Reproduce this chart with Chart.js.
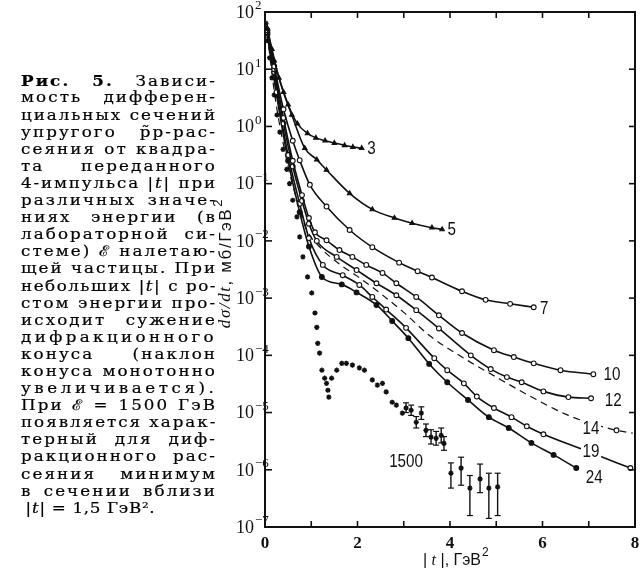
<!DOCTYPE html>
<html>
<head>
<meta charset="utf-8">
<script src="https://cdn.jsdelivr.net/npm/chart.js@4.4.0/dist/chart.umd.min.js"></script>
<style>
html, body { margin: 0; padding: 0; background: #fff; }
#wrap { position: relative; width: 644px; height: 571px; overflow: hidden; }
#c { position: absolute; left: 0; top: 0; }
#cap { position: absolute; left: 21px; top: 72.4px; width: 170px; transform: scaleX(1.153); transform-origin: 0 0;
       font: 14.5px "DejaVu Serif", serif; color: #000; -webkit-text-stroke: 0.2px #000; }
#cap div { height: 17.1px; line-height: 17.1px; white-space: nowrap; text-align: left; }
</style>
</head>
<body>
<div id="wrap">
  <canvas id="c" width="644" height="571"></canvas>
  <div id="cap"></div>
</div>
<script>
'use strict'

// caption, line by line as printed
const captionLines = [
  '<b>Рис. 5.</b> Зависи-',
  'мость дифферен-',
  'циальных сечений',
  'упругого p̃p-рас-',
  'сеяния от квадра-',
  'та переданного',
  '4-импульса |<i>t</i>| при',
  'различных значе-',
  'ниях энергии (в',
  'лабораторной си-',
  'стеме) ℰ налетаю-',
  'щей частицы. При',
  'небольших |<i>t</i>| с ро-',
  'стом энергии про-',
  'исходит сужение',
  'дифракционного',
  'конуса (наклон',
  'конуса монотонно',
  'увеличивается).',
  'При ℰ = 1500 ГэВ',
  'появляется харак-',
  'терный для диф-',
  'ракционного рас-',
  'сеяния минимум',
  'в сечении вблизи',
  '|<i>t</i>| = 1,5 ГэВ².'
]

// |t| (ГэВ²) and log10(dσ/dt) for each lab energy (ГэВ)
const t3   = [0.05, 0.15, 0.3, 0.5, 0.7, 0.92, 1.1, 1.3, 1.5, 1.72, 1.9, 2.09]
const lg3  = [1.72, 1.35, 0.85, 0.38, 0.05, -0.12, -0.2, -0.25, -0.29, -0.33, -0.36, -0.38]

const t5   = [0.05, 0.2, 0.4, 0.58, 0.86, 1.12, 1.33, 1.83, 2.32, 2.8, 3.18, 3.61, 3.83]
const lg5  = [1.7, 1.15, 0.6, 0.2, -0.38, -0.58, -0.76, -1.17, -1.45, -1.6, -1.69, -1.77, -1.8]

const t7   = [0.05, 0.2, 0.4, 0.6, 0.75, 0.97, 1.33, 1.83, 2.32, 2.9, 3.3, 3.61, 4.26, 4.77, 5.3, 5.81]
const lg7  = [1.68, 1.05, 0.3, -0.25, -0.59, -1.02, -1.4, -1.81, -2.11, -2.38, -2.53, -2.64, -2.88, -3.03, -3.1, -3.16]

const t10  = [0.05, 0.2, 0.4, 0.6, 0.8, 0.95, 1.08, 1.33, 1.61, 1.89, 2.19, 2.54, 2.84, 3.27, 3.76, 4.26, 4.95, 5.38, 5.81, 6.39, 7.1]
const lg10 = [1.65, 1.0, 0.15, -0.6, -1.2, -1.6, -1.85, -1.99, -2.16, -2.28, -2.42, -2.56, -2.74, -2.98, -3.3, -3.61, -3.91, -4.03, -4.14, -4.26, -4.33]

const t12  = [0.05, 0.2, 0.4, 0.6, 0.8, 0.95, 1.12, 1.55, 1.98, 2.41, 2.84, 3.27, 3.76, 4.45, 4.88, 5.23, 5.55, 6.02, 6.56, 7.05]
const lg12 = [1.63, 0.95, 0.05, -0.7, -1.3, -1.7, -2.0, -2.28, -2.51, -2.74, -2.95, -3.21, -3.53, -4.0, -4.24, -4.38, -4.47, -4.63, -4.73, -4.75]

const t14  = [0.05, 0.22, 0.47, 0.69, 0.9, 1.2, 1.6, 2.0, 2.5, 3.0, 3.55, 4.26, 5.0, 5.7, 6.56, 7.1, 7.6, 7.95]
const lg14 = [1.6, 0.5, -0.59, -1.29, -1.8, -2.12, -2.4, -2.62, -2.92, -3.25, -3.65, -4.03, -4.38, -4.7, -5.05, -5.2, -5.31, -5.36]
const mark14 = [0, 0, 0, 0, 0, 0, 0, 0, 0, 0, 0, 0, 0, 0, 0, 0, 1, 0]

const t19  = [0.05, 0.25, 0.5, 0.75, 0.95, 1.25, 1.68, 2.04, 2.32, 2.62, 3.05, 3.66, 3.94, 4.3, 4.58, 4.95, 5.33, 5.66, 6.02, 6.92, 7.9]
const lg19 = [1.6, 0.6, -0.5, -1.35, -1.95, -2.42, -2.6, -2.77, -2.98, -3.2, -3.52, -4.05, -4.26, -4.49, -4.72, -4.92, -5.08, -5.24, -5.38, -5.66, -5.97]

const t24  = [0.05, 0.25, 0.5, 0.75, 0.95, 1.23, 1.66, 1.98, 2.41, 2.75, 3.1, 3.55, 3.94, 4.39, 4.84, 5.27, 5.76, 6.24, 6.73]
const lg24 = [1.62, 0.55, -0.6, -1.5, -2.1, -2.63, -2.76, -2.9, -3.12, -3.4, -3.7, -4.15, -4.47, -4.78, -5.08, -5.27, -5.53, -5.74, -5.97]

const t1500  = [0.02, 0.06, 0.1, 0.15, 0.2, 0.26, 0.32, 0.39, 0.47, 0.53, 0.6, 0.69, 0.75, 0.82, 0.92, 1.01, 1.08, 1.12, 1.14, 1.18, 1.23, 1.29, 1.33, 1.36, 1.38,
                1.44, 1.55, 1.66, 1.76, 1.89, 2.04, 2.15, 2.32, 2.43, 2.54, 2.62, 2.75, 2.84, 2.97, 3.05, 3.16, 3.27, 3.38, 3.48, 3.59, 3.7, 3.81, 3.87,
                4.02, 4.24, 4.43, 4.65, 4.84, 5.03]
const lg1500 = [1.8, 1.5, 1.2, 0.85, 0.55, 0.2, -0.1, -0.4, -0.75, -1.0, -1.29, -1.58, -1.93, -2.28, -2.63, -2.91, -3.26, -3.51, -3.79, -3.96, -4.26, -4.4, -4.49, -4.61, -4.73,
                -4.4, -4.26, -4.14, -4.14, -4.17, -4.22, -4.26, -4.43, -4.52, -4.49, -4.64, -4.82, -4.87, -5.01, -4.92, -4.96, -5.17, -5.01, -5.31, -5.43, -5.45, -5.4, -5.54,
                -6.06, -5.97, -6.32, -6.16, -6.32, -6.3]

// error bars of the 1500 ГэВ points
const errT  = [3.05, 3.16, 3.27, 3.38, 3.48, 3.59, 3.7, 3.81, 3.87, 4.02, 4.24, 4.43, 4.65, 4.84, 5.03]
const errHi = [-4.83, -4.87, -5.07, -4.9, -5.2, -5.3, -5.33, -5.27, -5.42, -5.88, -5.78, -6.1, -5.9, -6.06, -6.06]
const errLo = [-5.0, -5.05, -5.27, -5.12, -5.42, -5.55, -5.57, -5.53, -5.66, -6.32, -6.27, -6.8, -6.4, -6.85, -6.8]

// axes
const xTicks = [0, 1, 2, 3, 4, 5, 6, 7, 8]
const xLabels = [0, 2, 4, 6, 8]
const yExps = [2, 1, 0, -1, -2, -3, -4, -5, -6, -7]

// curve labels: text, |t|, log10 value
const curveLabels = [
  ['3', 2.3, -0.38], ['5', 4.04, -1.79], ['7', 6.04, -3.17], ['10', 7.5, -4.33], ['12', 7.53, -4.78],
  ['14', 7.05, -5.26], ['19', 7.05, -5.67], ['24', 7.12, -6.13], ['1500', 3.05, -5.85]
]

// ---- caption
const cap = document.getElementById('cap')
captionLines.forEach(h => {
  const d = document.createElement('div')
  const s = document.createElement('span')
  s.innerHTML = h
  d.appendChild(s)
  cap.appendChild(d)
})
const capW = 170
Array.from(cap.children).forEach((d, i) => {
  if (i === captionLines.length - 1) { d.style.paddingLeft = '4px'; d.style.letterSpacing = '0.6px'; return }
  const s = d.firstChild
  const w = s.offsetWidth
  const txt = s.textContent
  const spaces = (txt.match(/ /g) || []).length
  let ls = (capW - w) / txt.length
  if (spaces) ls = Math.min(ls, 1.8)
  d.style.letterSpacing = ls + 'px'
  d.style.textAlign = 'justify'
  d.style.textAlignLast = 'justify'
})

// ---- chart
const pts = (t, lg) => t.map((v, i) => ({x: v, y: Math.pow(10, lg[i])}))

const curve = (t, lg, extra) => Object.assign({
  data: pts(t, lg),
  showLine: true,
  borderColor: '#111',
  borderWidth: 1.6,
  cubicInterpolationMode: 'monotone',
  pointRadius: 2.4,
  pointBorderWidth: 1.1,
  pointBorderColor: '#111',
  pointBackgroundColor: '#fff',
  pointStyle: 'circle'
}, extra)

const errData = []
errT.forEach((v, i) => {
  errData.push({x: v, y: Math.pow(10, errHi[i])})
  errData.push({x: v, y: Math.pow(10, errLo[i])})
  errData.push({x: v, y: null})
})

const ink = '#111'

// spaced text along x from (x, y)
const spaced = (ctx, s, x, y, gap) => {
  for (const ch of s) { ctx.fillText(ch, x, y); x += ctx.measureText(ch).width + gap }
  return x
}
const spacedWidth = (ctx, s, gap) => {
  let w = 0
  for (const ch of s) w += ctx.measureText(ch).width + gap
  return w
}

const frame = {
  id: 'frame',
  afterDatasetsDraw(chart) {
    const ctx = chart.ctx
    const xs = chart.scales.x, ys = chart.scales.y
    ctx.save()
    ctx.fillStyle = ink
    ctx.textAlign = 'center'
    ctx.textBaseline = 'middle'
    ctx.font = '19px "Liberation Sans", sans-serif'
    curveLabels.forEach(([txt, t, lg]) => {
      const px = xs.getPixelForValue(t), py = ys.getPixelForValue(Math.pow(10, lg))
      ctx.save()
      ctx.translate(px, py)
      ctx.scale(0.8, 1)
      const w = ctx.measureText(txt).width
      ctx.fillStyle = '#fff'
      ctx.fillRect(-w / 2 - 2, -8, w + 4, 16)
      ctx.fillStyle = ink
      ctx.fillText(txt, 0, 1)
      ctx.restore()
    })
    ctx.restore()
  },
  afterDraw(chart) {
    const ctx = chart.ctx
    const {left, right, top, bottom} = chart.chartArea
    const xs = chart.scales.x, ys = chart.scales.y
    ctx.save()
    ctx.strokeStyle = ink
    ctx.fillStyle = ink
    ctx.lineWidth = 2
    ctx.strokeRect(left, top, right - left, bottom - top)
    ctx.lineWidth = 1.6
    const seg = (a, b, c, d) => { ctx.beginPath(); ctx.moveTo(a, b); ctx.lineTo(c, d); ctx.stroke() }
    xTicks.forEach(v => {
      const px = xs.getPixelForValue(v)
      seg(px, bottom, px, bottom - 6)
      seg(px, top, px, top + 6)
    })
    yExps.forEach(e => {
      const py = ys.getPixelForValue(Math.pow(10, e))
      seg(left, py, left + 7, py)
      seg(right, py, right - 6, py)
    })
    // y tick labels 10^n
    ctx.textBaseline = 'middle'
    yExps.forEach(e => {
      const py = ys.getPixelForValue(Math.pow(10, e))
      ctx.font = '18px "Liberation Serif", serif'
      ctx.textAlign = 'right'
      ctx.fillText('10', left - 11, py + 1)
      ctx.font = '13px "Liberation Serif", serif'
      ctx.textAlign = 'left'
      ctx.fillText(e < 0 ? '\u2212' + (-e) : String(e), left - 10, py - 6)
    })
    // x tick labels
    ctx.font = 'bold 17px "Liberation Serif", serif'
    ctx.textAlign = 'center'
    xLabels.forEach(v => ctx.fillText(String(v), xs.getPixelForValue(v), bottom + 17))

    // x title  | t |, ГэВ²
    const parts = [['| ', '16px "Liberation Sans", sans-serif'], ['t', 'italic 16px "Liberation Serif", serif'],
                   [' |, ГэВ', '16px "Liberation Sans", sans-serif']]
    let tw = 0
    parts.forEach(([s, f]) => { ctx.font = f; tw += ctx.measureText(s).width })
    let cx = 452 - tw / 2
    ctx.textAlign = 'left'
    parts.forEach(([s, f]) => { ctx.font = f; ctx.fillText(s, cx, 561); cx += ctx.measureText(s).width })
    ctx.font = '12px "Liberation Sans", sans-serif'
    ctx.fillText('2', cx + 1, 553)

    // y title  dσ/dt, мб/ГэВ²
    ctx.save()
    ctx.translate(226, 264)
    ctx.rotate(-Math.PI / 2)
    const yparts = [['d\u03c3/dt', 'italic 17px "Liberation Serif", serif'], [', мб/ГэВ', '17px "Liberation Sans", sans-serif']]
    const gap = 1.6
    tw = 0
    yparts.forEach(([s, f]) => { ctx.font = f; tw += spacedWidth(ctx, s, gap) })
    cx = -tw / 2 - 4
    yparts.forEach(([s, f]) => { ctx.font = f; cx = spaced(ctx, s, cx, 0, gap) })
    ctx.font = '13px "Liberation Sans", sans-serif'
    ctx.fillText('2', cx + 1, -8)
    ctx.restore()
    ctx.restore()
  }
}

new Chart(document.getElementById('c'), {
  type: 'scatter',
  data: {
    datasets: [
      curve(t3, lg3, {pointStyle: 'triangle', pointBackgroundColor: ink, pointRadius: 2.6}),
      curve(t5, lg5, {pointStyle: 'triangle', pointBackgroundColor: ink, pointRadius: 2.6}),
      curve(t7, lg7),
      curve(t10, lg10),
      curve(t12, lg12),
      curve(t14, lg14, {borderDash: [7, 5], borderWidth: 1.2, pointRadius: mark14.map(m => m ? 2.4 : 0)}),
      curve(t19, lg19),
      curve(t24, lg24, {pointBackgroundColor: ink}),
      {
        data: pts(t1500, lg1500),
        showLine: false,
        pointStyle: 'star',
        pointRadius: 2.6,
        pointBorderWidth: 1.4,
        pointBorderColor: ink,
        pointBackgroundColor: ink
      },
      {
        data: errData,
        showLine: true,
        spanGaps: false,
        borderColor: ink,
        borderWidth: 1.4,
        pointStyle: 'line',
        pointRadius: 3,
        pointBorderWidth: 1.2,
        pointBorderColor: ink
      }
    ]
  },
  options: {
    responsive: false,
    animation: false,
    devicePixelRatio: 1,
    layout: {padding: {left: 265, right: 9, top: 12, bottom: 44}},
    plugins: {legend: {display: false}, tooltip: {enabled: false}},
    scales: {
      x: {type: 'linear', min: 0, max: 8, display: false},
      y: {type: 'logarithmic', min: 1e-7, max: 1e2, display: false}
    }
  },
  plugins: [frame]
})
</script>
</body>
</html>
